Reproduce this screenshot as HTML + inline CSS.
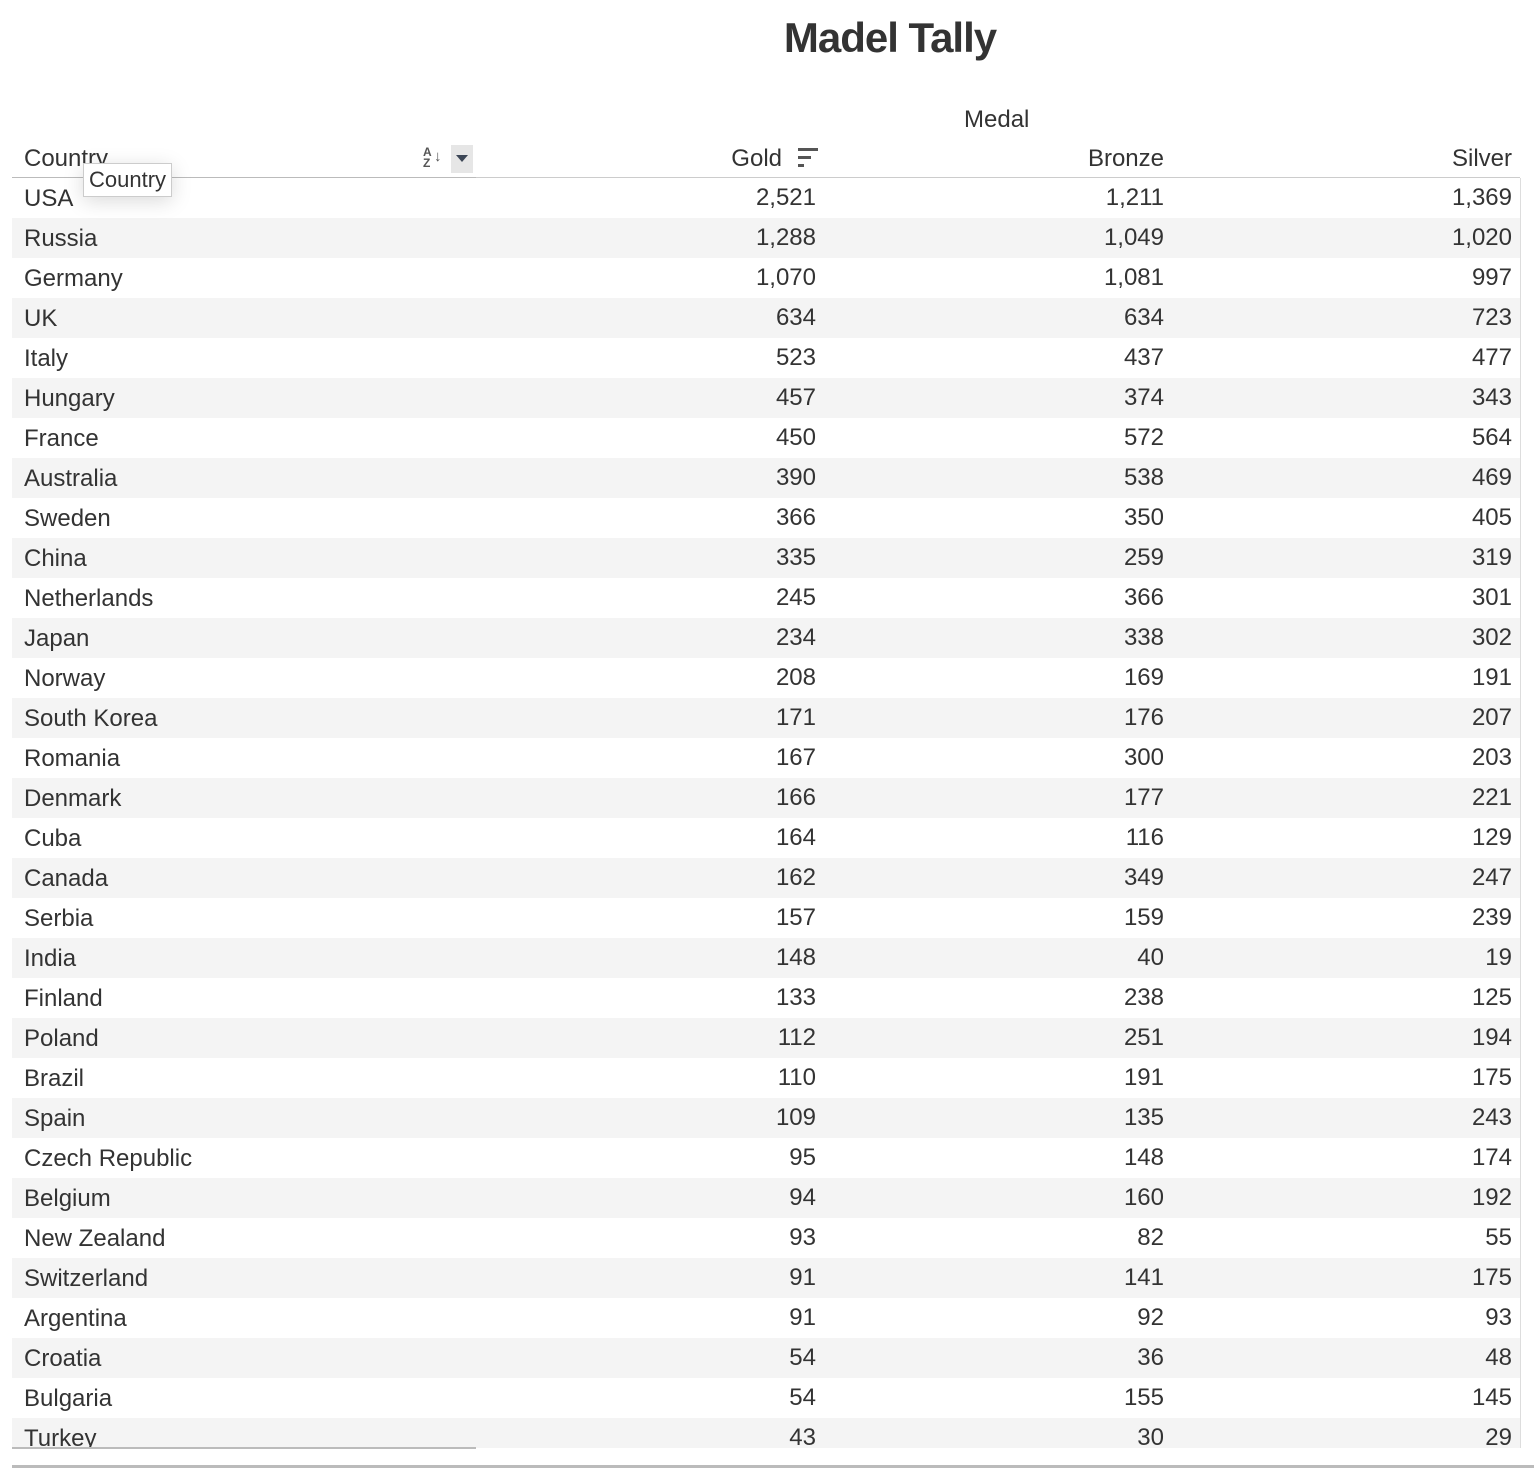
<!DOCTYPE html>
<html><head><meta charset="utf-8"><style>
body{margin:0;width:1534px;height:1468px;background:#fff;font-family:"Liberation Sans","DejaVu Sans",sans-serif;color:#333;position:relative;overflow:hidden}
.a{position:absolute;white-space:nowrap}
.row{position:absolute;left:12px;width:1508px;height:40px}
.c{position:absolute;font-size:24px;line-height:40px;top:0}
.n{text-align:right}
.h{font-size:24px}
</style></head><body>
<div class="a" style="left:0;width:1780px;text-align:center;top:14px;font-size:42px;font-weight:bold;color:#333;letter-spacing:-1px">Madel Tally</div>
<div class="a h" style="left:964px;top:106px">Medal</div>
<div class="a h" style="left:24px;top:145px">Country</div>
<div class="a" style="left:423px;top:147px;font-size:12px;line-height:11px;color:#555;font-weight:bold">A<br>Z</div>
<div class="a" style="left:434px;top:148px;font-size:15px;color:#555;font-weight:bold">↓</div>
<div class="a" style="left:451px;top:145px;width:22px;height:28px;background:#e6e6e6"><div style="position:absolute;left:5px;top:10px;border-left:6px solid transparent;border-right:6px solid transparent;border-top:7px solid #3c4656"></div></div>
<div class="a h n" style="left:582px;width:200px;top:145px">Gold</div>
<div class="a" style="left:798px;top:148px;width:20px;height:20px">
<div style="position:absolute;left:0;top:0;width:20px;height:3px;background:#555"></div>
<div style="position:absolute;left:0;top:8px;width:13px;height:3px;background:#555"></div>
<div style="position:absolute;left:0;top:16px;width:6px;height:3px;background:#555"></div></div>
<div class="a h n" style="left:964px;width:200px;top:145px">Bronze</div>
<div class="a h n" style="left:1312px;width:200px;top:145px">Silver</div>
<div class="a" style="left:12px;top:177px;width:1508px;height:1px;background:#ccc"></div>
<div class="a" style="left:12px;top:177px;width:464px;height:2px;background:#bbb"></div>
<div id="rows"></div>
<div class="a" style="left:83px;top:163px;padding:0 5px;height:32px;line-height:32px;background:#fff;border:1px solid #ccc;font-size:22px;box-shadow:0 4px 20px rgba(0,0,0,0.15);z-index:5">Country</div>
<div class="a" style="left:12px;top:1447px;width:464px;height:2px;background:#bbb"></div>
<div class="a" style="left:1520px;top:178px;width:1px;height:1270px;background:#ddd"></div>
<div class="a" style="left:12px;top:1465px;width:1522px;height:3px;background:#bbb"></div>
<script>
const countries=["USA","Russia","Germany","UK","Italy","Hungary","France","Australia","Sweden","China","Netherlands","Japan","Norway","South Korea","Romania","Denmark","Cuba","Canada","Serbia","India","Finland","Poland","Brazil","Spain","Czech Republic","Belgium","New Zealand","Switzerland","Argentina","Croatia","Bulgaria","Turkey"];
const gold=[2521,1288,1070,634,523,457,450,390,366,335,245,234,208,171,167,166,164,162,157,148,133,112,110,109,95,94,93,91,91,54,54,43];
const bronze=[1211,1049,1081,634,437,374,572,538,350,259,366,338,169,176,300,177,116,349,159,40,238,251,191,135,148,160,82,141,92,36,155,30];
const silver=[1369,1020,997,723,477,343,564,469,405,319,301,302,191,207,203,221,129,247,239,19,125,194,175,243,174,192,55,175,93,48,145,29];
const R=document.getElementById('rows');
const fmt=v=>v.toLocaleString('en-US');
countries.forEach((c,i)=>{
 const r=document.createElement('div');
 r.className='row';
 
 
 r.style.top=(178+40*i)+'px';
 if(i==countries.length-1) r.style.height='30px';
 r.style.overflow='hidden';
 r.style.background=i%2?'#f4f4f4':'#fff';
 const cells=[[c,12,null],[fmt(gold[i]),null,804],[fmt(bronze[i]),null,1152],[fmt(silver[i]),null,1500]];
 cells.forEach((d,j)=>{
  const e=document.createElement('div');
  e.className='c'+(j?' n':'');
  
  
  e.textContent=d[0];
  if(j==0){e.style.left='12px';e.style.top='1px'}
  else{e.style.left=(d[2]-200)+'px';e.style.width='200px'}
  r.appendChild(e);
 });
 R.appendChild(r);
});
</script>
</body></html>
